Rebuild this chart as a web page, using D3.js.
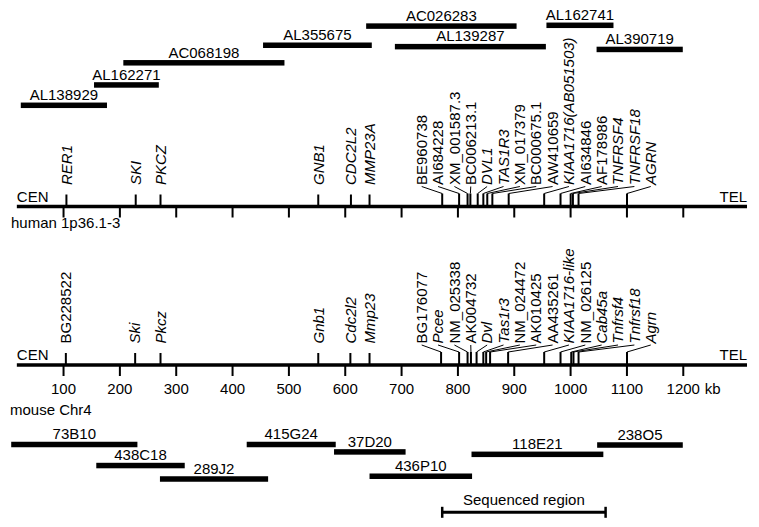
<!DOCTYPE html>
<html>
<head>
<meta charset="utf-8">
<script src="https://cdn.jsdelivr.net/npm/d3@7"></script>
<style>
  html, body { margin: 0; padding: 0; background: #fff; }
  svg { display: block; }
  text { font-family: "Liberation Sans", Arial, Helvetica, sans-serif; font-size: 15px; fill: #000; }
</style>
</head>
<body>
<svg id="chart" width="759" height="527"></svg>
<script>
// ---------------- DATA ----------------
// human BAC clones (kb on the shared scale), tier = stacking level
const humanClones     = ["AL138929","AL162271","AC068198","AL355675","AC026283","AL139287","AL162741","AL390719"];
const humanCloneStart = [25, 155, 207, 455, 638, 689, 958, 1047];
const humanCloneEnd   = [178, 270, 493, 648, 905, 957, 1077, 1200];
const humanCloneTier  = [0, 1.02, 2.13, 3.01, 3.97, 2.94, 4.01, 2.8];

// mouse BAC clones
const mouseClones     = ["73B10","438C18","289J2","415G24","37D20","436P10","118E21","238O5"];
const mouseCloneStart = [8, 159, 272, 426, 581, 644, 825, 1048];
const mouseCloneEnd   = [232, 316, 464, 584, 708, 826, 1059, 1200];
const mouseCloneTier  = [0, 1.22, 2.0, 0, 0.43, 1.84, 0.57, 0.03];

// human genes (human 1p36.1-3)
const humanGenes  = ["RER1","SKI","PKCZ","GNB1","CDC2L2","MMP23A",
  "BE960738","AI684228","XM_001587.3","BC006213.1","DVL1","TAS1R3","XM_017379","BC000675.1",
  "AW410659","KIAA1716(AB051503)","AI634846","AF178986","TNFRSF4","TNFRSF18","AGRN"];
const humanGeneKb = [106, 229, 273, 553, 611, 644,
  773, 803, 818, 823, 836, 846, 853, 862,
  891, 954, 983, 1001, 1005, 1015, 1101];
const humanGeneItalic = [1,1,1,1,1,1, 0,0,0,0,1,1,0,0, 0,1,0,0,1,1,1];

// mouse genes (mouse Chr4)
const mouseGenes  = ["BG228522","Ski","Pkcz","Gnb1","Cdc2l2","Mmp23",
  "BG176077","Pcee","NM_025338","AK004732","Dvl","Tas1r3","NM_024472","AK010425",
  "AA435261","KIAA1716-like","NM_026125","Cab45a","Tnfrsf4","Tnfrsf18","Agrn"];
const mouseGeneKb = [105, 228, 273, 553, 610, 644,
  771, 803, 818, 824, 834, 846, 851, 858,
  890, 954, 983, 1002, 1006, 1015, 1101];
const mouseGeneItalic = [0,1,1,1,1,1, 0,1,0,0,1,1,0,0, 0,1,0,1,1,1,1];

const axisTicks = [100,200,300,400,500,600,700,800,900,1000,1100,1200];
const sequencedRegion = [773, 1063];

// ---------------- LAYOUT ----------------
const svg = d3.select("#chart");
const x = d3.scaleLinear().domain([0, 1300]).range([6.7, 6.7 + 0.5634 * 1300]);
const axisLineStart = 18, axisLineEnd = 1314;
const humanAxisY = 206.5, mouseAxisY = 365;
const barH = 5.5;

const yHumanClone = d3.scaleLinear().domain([0, 4]).range([105.3, 25.5]);
const yMouseClone = d3.scaleLinear().domain([0, 2]).range([444.5, 479]);

function drawClones(names, starts, ends, tiers, yScale) {
  const g = svg.append("g");
  const data = names.map((n, i) => ({ n, s: starts[i], e: ends[i], t: tiers[i] }));
  g.selectAll("rect").data(data).join("rect")
    .attr("x", d => x(d.s))
    .attr("y", d => yScale(d.t) - barH / 2)
    .attr("width", d => x(d.e) - x(d.s))
    .attr("height", barH)
    .attr("fill", "#000");
  g.selectAll("text").data(data).join("text")
    .attr("x", d => (x(d.s) + x(d.e)) / 2)
    .attr("y", d => yScale(d.t) - barH / 2 - 2.5)
    .attr("text-anchor", "middle")
    .text(d => d.n);
}

function drawGenes(names, kbs, italics, axisY) {
  const g = svg.append("g");
  const fanStart = 421.7, fanStep = 16.36;
  let j = 0;
  const data = names.map((n, i) => {
    const tx = x(kbs[i]);
    const dense = kbs[i] >= 700;
    const lx = dense ? fanStart + (j++) * fanStep : tx;
    return { n, tx, lx, dense, it: italics[i] };
  });
  // leaders
  g.selectAll("line.leader").data(data.filter(d => d.dense)).join("line")
    .attr("class", "leader")
    .attr("x1", d => d.lx).attr("y1", axisY - 20)
    .attr("x2", d => d.tx).attr("y2", axisY - 13)
    .attr("stroke", "#000").attr("stroke-width", 1);
  // ticks
  g.selectAll("line.gt").data(data).join("line")
    .attr("class", "gt")
    .attr("x1", d => d.tx).attr("x2", d => d.tx)
    .attr("y1", d => d.dense ? axisY - 13 : axisY - 12)
    .attr("y2", axisY)
    .attr("stroke", "#000").attr("stroke-width", 2);
  // labels
  g.selectAll("text").data(data).join("text")
    .attr("transform", d => `translate(${d.lx},${axisY - 21.5}) rotate(-90)`)
    .attr("dy", "0.35em")
    .attr("text-anchor", "start")
    .style("font-style", d => d.it ? "italic" : "normal")
    .text(d => d.n);
}

function drawAxis(axisY, withLabels) {
  const ax = d3.axisBottom(x).tickValues(axisTicks).tickSize(11).tickSizeOuter(0).tickPadding(7)
    .tickFormat(withLabels ? d3.format("d") : () => "");
  const g = svg.append("g").attr("transform", `translate(0,${axisY})`).call(ax);
  g.select(".domain").remove();
  g.selectAll(".tick line").attr("stroke", "#000").attr("stroke-width", 2);
  g.selectAll(".tick text").attr("fill", "#000")
    .style("font-family", '"Liberation Sans", Arial, sans-serif').style("font-size", "15px");
  svg.append("line")
    .attr("x1", x(axisLineStart)).attr("x2", x(axisLineEnd))
    .attr("y1", axisY).attr("y2", axisY)
    .attr("stroke", "#000").attr("stroke-width", 3.5);
  svg.append("text").attr("x", x(axisLineStart)).attr("y", axisY - 5).text("CEN");
  svg.append("text").attr("x", x(axisLineEnd)).attr("y", axisY - 5)
    .attr("text-anchor", "end").text("TEL");
}

// ---------------- DRAW ----------------
drawClones(humanClones, humanCloneStart, humanCloneEnd, humanCloneTier, yHumanClone);
drawGenes(humanGenes, humanGeneKb, humanGeneItalic, humanAxisY);
drawAxis(humanAxisY, false);
svg.append("text").attr("x", 11).attr("y", 228).text("human 1p36.1-3");

drawGenes(mouseGenes, mouseGeneKb, mouseGeneItalic, mouseAxisY);
drawAxis(mouseAxisY, true);
svg.append("text").attr("x", x(1200) + 22).attr("y", 394).text("kb");
svg.append("text").attr("x", 10).attr("y", 415).text("mouse Chr4");

drawClones(mouseClones, mouseCloneStart, mouseCloneEnd, mouseCloneTier, yMouseClone);

// sequenced region bracket
const sy = 512.3;
const sg = svg.append("g");
sg.append("line").attr("x1", x(sequencedRegion[0])).attr("x2", x(sequencedRegion[1]))
  .attr("y1", sy).attr("y2", sy).attr("stroke", "#000").attr("stroke-width", 3);
sg.selectAll("line.cap").data(sequencedRegion).join("line").attr("class", "cap")
  .attr("x1", d => x(d)).attr("x2", d => x(d))
  .attr("y1", sy - 5.5).attr("y2", sy + 5.5)
  .attr("stroke", "#000").attr("stroke-width", 2.5);
sg.append("text")
  .attr("x", (x(sequencedRegion[0]) + x(sequencedRegion[1])) / 2)
  .attr("y", 505).attr("text-anchor", "middle").text("Sequenced region");
</script>
</body>
</html>
